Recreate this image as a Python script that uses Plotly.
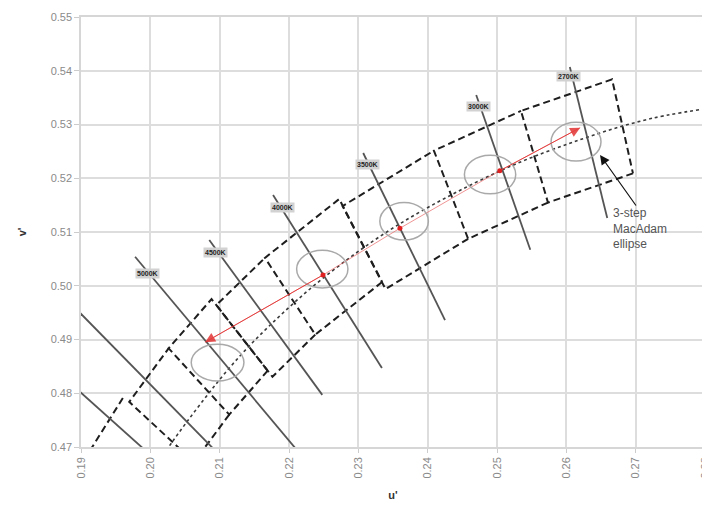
import plotly.graph_objects as go

FONTE = "Liberation Sans, Arial, sans-serif"

X_TICKS = [0.19, 0.20, 0.21, 0.22, 0.23, 0.24, 0.25, 0.26, 0.27, 0.28]
Y_TICKS = [0.47, 0.48, 0.49, 0.50, 0.51, 0.52, 0.53, 0.54, 0.55]

# Quadrângulos ANSI (u', v'): cantos TL, TR, BR, BL
QUAD_CCT = ["2700K", "3000K", "3500K", "4000K", "4500K", "5000K", "5700K", "6500K"]
QUAD_U = [
    [0.25346, 0.26660, 0.26961, 0.25735],
    [0.24090, 0.25346, 0.25735, 0.24584],
    [0.22773, 0.24090, 0.24584, 0.23392],
    [0.21653, 0.22724, 0.23343, 0.22379],
    [0.20952, 0.21653, 0.22379, 0.21761],
    [0.20264, 0.20883, 0.21693, 0.21138],
    [0.19696, 0.20264, 0.21138, 0.20630],
    [0.19046, 0.19614, 0.20552, 0.20046],
]
QUAD_V = [
    [0.53253, 0.53840, 0.52091, 0.51548],
    [0.52513, 0.53253, 0.51548, 0.50873],
    [0.51483, 0.52513, 0.50873, 0.49938],
    [0.50519, 0.51614, 0.50069, 0.49091],
    [0.49640, 0.50519, 0.49091, 0.48307],
    [0.48836, 0.49752, 0.48420, 0.47603],
    [0.47840, 0.48836, 0.47603, 0.46720],
    [0.46761, 0.47932, 0.46816, 0.45765],
]
# lado direito próprio (não partilhado com o quadrângulo vizinho)
QUAD_LADO_DIR = [True, False, False, True, False, True, False, False]

# Lugar de Planck
PLANCK_U = [0.2004, 0.2033, 0.2114, 0.2173, 0.2251, 0.2357, 0.2505, 0.2625, 0.2722, 0.2836]
PLANCK_V = [0.4655, 0.4712, 0.4847, 0.4927, 0.5016, 0.5113, 0.5214, 0.5274, 0.5311, 0.5336]

# Isotermas (extremos)
ISO_CCT = ["6500K", "5700K", "5000K", "4500K", "4000K", "3500K", "3000K", "2700K"]
ISO_U0 = [0.1899, 0.1899, 0.1978, 0.2085, 0.2177, 0.2307, 0.2470, 0.2605]
ISO_V0 = [0.4802, 0.4949, 0.5054, 0.5085, 0.5169, 0.5247, 0.5355, 0.5407]
ISO_U1 = [0.1989, 0.2090, 0.2209, 0.2248, 0.2334, 0.2425, 0.2548, 0.2659]
ISO_V1 = [0.4698, 0.4698, 0.4698, 0.4797, 0.4847, 0.4936, 0.5067, 0.5126]

# Rótulos das isotermas
ROTULO_TXT = ["5000K", "4500K", "4000K", "3500K", "3000K", "2700K"]
ROTULO_U = [0.19966, 0.20947, 0.21899, 0.23125, 0.24726, 0.26024]
ROTULO_V = [0.50237, 0.50628, 0.51465, 0.52265, 0.53326, 0.53884]

# Elipses de MacAdam (3 passos)
ELIPSE_CCT = ["5000K", "4000K", "3500K", "3000K", "2700K"]
ELIPSE_U = [0.2097, 0.2248, 0.2366, 0.2490, 0.2614]
ELIPSE_V = [0.4857, 0.5031, 0.5120, 0.5207, 0.5268]
ELIPSE_LU = [0.0038, 0.0037, 0.0035, 0.0037, 0.0036]
ELIPSE_LV = [0.0034, 0.0035, 0.0035, 0.0036, 0.0036]

# Percurso vermelho
VERM_U = [0.2079, 0.2249, 0.2360, 0.2504, 0.2620]
VERM_V = [0.4895, 0.5020, 0.5107, 0.5214, 0.5294]

fig = go.Figure()

for i, cct in enumerate(QUAD_CCT):
    tl, tr, br, bl = range(4)
    ordem = [br, bl, tl, tr]
    if QUAD_LADO_DIR[i]:
        ordem.append(br)
    fig.add_trace(
        go.Scatter(
            x=[QUAD_U[i][k] for k in ordem],
            y=[QUAD_V[i][k] for k in ordem],
            mode="lines",
            line=dict(color="#1e1e1e", width=2, dash="7px,4px"),
            name=cct,
            showlegend=False,
            hoverinfo="skip"
        )
    )

fig.add_trace(
    go.Scatter(
        x=PLANCK_U,
        y=PLANCK_V,
        mode="lines",
        line=dict(color="#3a3a3a", width=1.6, dash="3px,3px", shape="spline"),
        showlegend=False,
        hoverinfo="skip"
    )
)

for i, cct in enumerate(ISO_CCT):
    fig.add_trace(
        go.Scatter(
            x=[ISO_U0[i], ISO_U1[i]],
            y=[ISO_V0[i], ISO_V1[i]],
            mode="lines",
            line=dict(color="#555555", width=1.8),
            name=cct,
            showlegend=False,
            hoverinfo="skip"
        )
    )

for i in range(len(ELIPSE_CCT)):
    fig.add_shape(
        type="circle",
        xref="x",
        yref="y",
        x0=ELIPSE_U[i] - ELIPSE_LU[i],
        x1=ELIPSE_U[i] + ELIPSE_LU[i],
        y0=ELIPSE_V[i] - ELIPSE_LV[i],
        y1=ELIPSE_V[i] + ELIPSE_LV[i],
        line=dict(color="#a9a9a9", width=1.5)
    )

fig.add_trace(
    go.Scatter(
        x=VERM_U,
        y=VERM_V,
        mode="lines",
        line=dict(color="rgba(232,90,90,0.65)", width=1),
        showlegend=False,
        hoverinfo="skip"
    )
)

fig.add_trace(
    go.Scatter(
        x=VERM_U[1:-1],
        y=VERM_V[1:-1],
        mode="markers",
        marker=dict(color="#e02020", size=5),
        showlegend=False,
        hoverinfo="skip"
    )
)

for ponta, cauda in [(0, 1), (-1, -2)]:
    fig.add_annotation(
        x=VERM_U[ponta],
        y=VERM_V[ponta],
        ax=VERM_U[cauda],
        ay=VERM_V[cauda],
        xref="x",
        yref="y",
        axref="x",
        ayref="y",
        text="",
        showarrow=True,
        arrowhead=2,
        arrowsize=2,
        arrowwidth=1,
        arrowcolor="rgba(225,40,40,0.8)"
    )

for i, txt in enumerate(ROTULO_TXT):
    fig.add_annotation(
        x=ROTULO_U[i],
        y=ROTULO_V[i],
        text=f"<b>{txt}</b>",
        showarrow=False,
        font=dict(family=FONTE, size=7, color="#222222"),
        bgcolor="#d2d2d2",
        borderpad=1
    )

fig.add_annotation(
    x=0.26486,
    y=0.52433,
    ax=37,
    ay=52,
    text="",
    showarrow=True,
    arrowhead=2,
    arrowsize=1.6,
    arrowwidth=1.2,
    arrowcolor="#111111"
)

fig.add_annotation(
    x=0.26645,
    y=0.5106,
    text="3-step<br>MacAdam<br>ellipse",
    showarrow=False,
    xanchor="left",
    align="left",
    font=dict(family=FONTE, size=12, color="#555555")
)

fig.update_layout(
    width=702,
    height=504,
    margin=dict(l=73, r=5, t=9, b=65),
    paper_bgcolor="white",
    plot_bgcolor="white",
    font=dict(family=FONTE, size=11, color="#888888"),
    showlegend=False
)

fig.update_xaxes(
    range=[0.19, 0.28],
    tickvals=X_TICKS,
    ticktext=[f"{t:.2f}" for t in X_TICKS],
    tickangle=-90,
    ticklabeloverflow="allow",
    tickfont=dict(size=11, color="#8a8a8a"),
    showgrid=True,
    gridcolor="#dddddd",
    gridwidth=1.5,
    ticks="outside",
    ticklen=4,
    tickcolor="#cccccc",
    showline=True,
    linecolor="#d6d6d6",
    linewidth=1.5,
    mirror=True,
    zeroline=False,
    automargin=False,
    title=dict(
        text="<b>u'</b>",
        font=dict(size=11, color="#333333"),
        standoff=14
    )
)

fig.update_yaxes(
    range=[0.47, 0.55],
    tickvals=Y_TICKS,
    ticktext=[f"{t:.2f}" for t in Y_TICKS],
    tickfont=dict(size=11, color="#8a8a8a"),
    showgrid=True,
    gridcolor="#dddddd",
    gridwidth=1.5,
    ticks="outside",
    ticklen=5,
    tickcolor="#cccccc",
    showline=True,
    linecolor="#d6d6d6",
    linewidth=1.5,
    mirror=True,
    zeroline=False,
    automargin=False,
    title=dict(
        text="<b>v'</b>",
        font=dict(size=11, color="#333333"),
        standoff=22
    )
)

fig.write_html("out.html")
